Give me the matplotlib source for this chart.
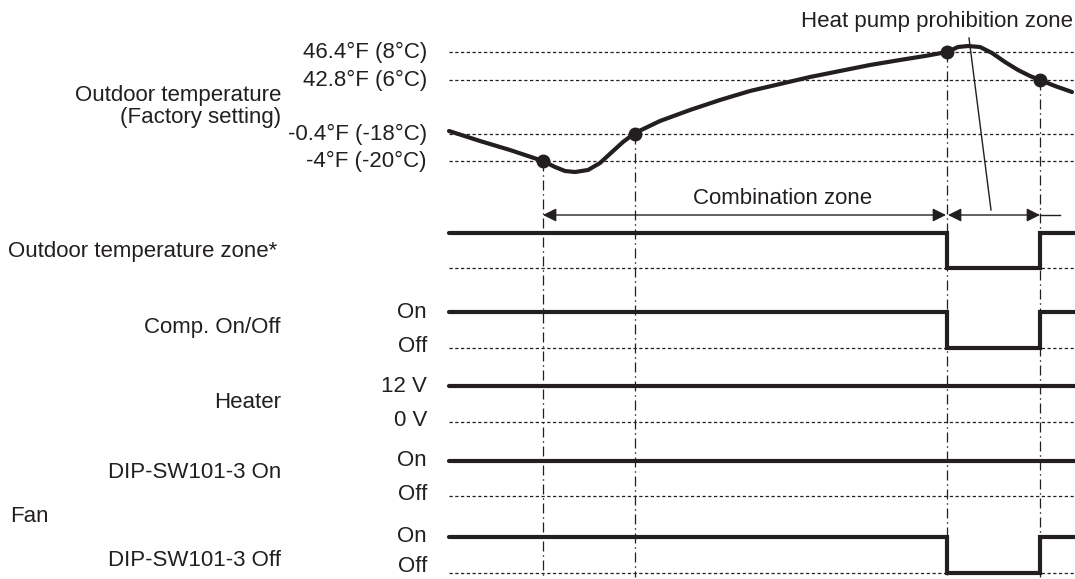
#!/usr/bin/env python3
"""Timing chart: outdoor temperature vs compressor / heater / fan signals."""
import matplotlib.pyplot as plt
import numpy as np

plt.rcParams["font.family"] = ["Liberation Sans", "DejaVu Sans"]

INK = "#231f20"
FS = 16

# temperature thresholds (label, diagram row)
TEMP_LABELS = ["46.4°F (8°C)", "42.8°F (6°C)", "-0.4°F (-18°C)", "-4°F (-20°C)"]
TEMP_ROWS = [52, 80, 134, 161]

# outdoor temperature trace (diagram units)
CURVE_X = [449, 480, 510, 543, 555, 565, 575, 588, 600, 612, 623, 635, 660, 690,
           720, 750, 780, 810, 840, 870, 900, 925, 947, 958, 968, 980, 992, 1005,
           1018, 1030, 1040, 1055, 1072]
CURVE_Y = [131, 141, 150, 161, 167, 171, 172, 170, 163, 152, 142, 133, 121, 110,
           100, 91, 84, 77, 71, 65, 60, 56, 52, 47, 46, 47, 53, 62,
           70, 76, 80, 86, 92]

# threshold crossings (time, row)
EVENT_X = [543, 635, 947, 1040]
EVENT_Y = [161, 134, 52, 80]

# signal rows
SEG_EDGES = [449, 947, 1040, 1075]
SIGNALS = [
    # name, label x, label y, hi label, lo label, hi row, lo row, states
    ("Outdoor temperature zone*", 8, 251, "", "", 233, 268, [1, 0, 1]),
    ("Comp. On/Off", 281, 328, "On", "Off", 312, 348, [1, 0, 1]),
    ("Heater", 281, 403, "12 V", "0 V", 386, 422, [1, 1, 1]),
    ("DIP-SW101-3 On", 281, 473, "On", "Off", 461, 496, [1, 1, 1]),
    ("DIP-SW101-3 Off", 281, 561, "On", "Off", 537, 573, [1, 0, 1]),
]

fig = plt.figure(figsize=(10.75, 5.79), dpi=100)
ax = fig.add_axes([0, 0, 1, 1])
ax.set_xlim(0, 1075)
ax.set_ylim(579, 0)
ax.axis("off")

dotted = dict(color=INK, lw=0.9, linestyle=(0, (2.6, 2.0)))
dashdot = dict(color=INK, lw=0.9, linestyle=(0, (8, 3, 1.2, 3)))

# --- temperature block ---
for lab, row in zip(TEMP_LABELS, TEMP_ROWS):
    ax.plot([449, 1075], [row, row], **dotted)
    ax.text(427, row, lab, ha="right", va="center", fontsize=FS, color=INK)
ax.text(281, 95, "Outdoor temperature", ha="right", va="center", fontsize=FS, color=INK)
ax.text(281, 117, "(Factory setting)", ha="right", va="center", fontsize=FS, color=INK)

ax.plot(CURVE_X, CURVE_Y, color=INK, lw=3.0, solid_capstyle="round", solid_joinstyle="round")
ax.plot(EVENT_X, EVENT_Y, "o", color=INK, ms=9)

for x, y in zip(EVENT_X, EVENT_Y):
    ax.plot([x, x], [y, 577], **dashdot)

# --- zone annotations ---
arr = dict(arrowstyle="<|-|>", color=INK, lw=1.0, mutation_scale=20, shrinkA=0, shrinkB=0)
ax.annotate("", xy=(EVENT_X[0], 215), xytext=(EVENT_X[2] - 1, 215), arrowprops=arr)
ax.annotate("", xy=(EVENT_X[2] + 1, 215), xytext=(EVENT_X[3], 215), arrowprops=arr)
ax.plot([EVENT_X[3], 1060], [215, 215], color=INK, lw=1.0)
ax.text(783, 199, "Combination zone", ha="center", va="center", fontsize=FS, color=INK)
ax.text(1073, 22, "Heat pump prohibition zone", ha="right", va="center", fontsize=FS, color=INK)
ax.plot([969, 991], [38, 210], color=INK, lw=1.0)

# --- digital signals ---
for name, lx, ly, hi_lab, lo_lab, hi, lo, states in SIGNALS:
    ax.plot([449, 1075], [lo, lo], **dotted)
    ys = [hi if s else lo for s in states]
    ax.plot(SEG_EDGES, ys + [ys[-1]], drawstyle="steps-post", color=INK, lw=3.0,
            solid_capstyle="round", solid_joinstyle="miter")
    ha = "left" if lx < 100 else "right"
    ax.text(lx, ly, name, ha=ha, va="center", fontsize=FS, color=INK)
    if hi_lab:
        ax.text(427, hi, hi_lab, ha="right", va="center", fontsize=FS, color=INK)
        lo_y = min(lo - 1, 567)
        ax.text(427, lo_y, lo_lab, ha="right", va="center", fontsize=FS, color=INK)

ax.text(10, 517, "Fan", ha="left", va="center", fontsize=FS, color=INK)

fig.savefig("out.png", dpi=100)
